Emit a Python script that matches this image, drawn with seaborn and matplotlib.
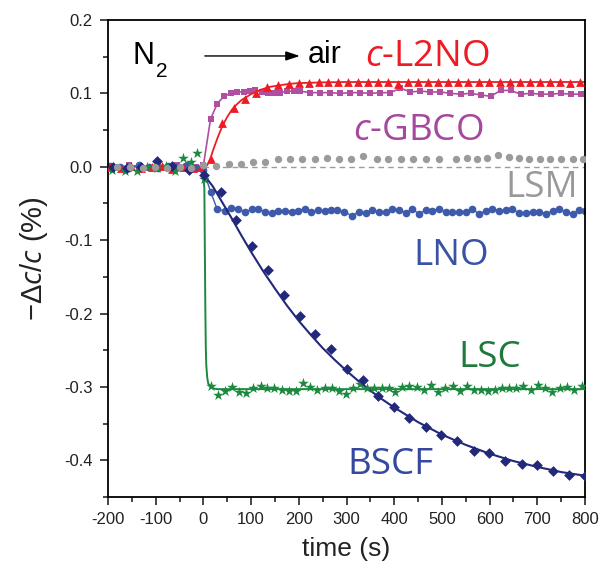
import matplotlib
matplotlib.use("Agg")
import matplotlib.pyplot as plt
from matplotlib.ticker import MultipleLocator
import seaborn as sns

# ---- data ----
# c-L2NO: red triangles + fitted curve
l2no_t = [-195, -173, -152, -130, -108, -87, -65, -43, -22, -5,
          16, 39, 64, 88, 111, 134, 156, 179, 200,
          221, 242, 262, 282, 303, 324, 345, 366, 386, 407,
          428, 449, 470, 491, 512, 533, 554, 578, 599, 621,
          642, 663, 684, 705, 727, 748, 768, 790]
l2no_y = [0.000, -0.002, 0.001, -0.001, 0.000, 0.001, -0.003, 0.000, -0.002, 0.000,
          0.011, 0.060, 0.080, 0.092, 0.100, 0.109, 0.111, 0.113, 0.114,
          0.114, 0.115, 0.115, 0.116, 0.116, 0.116, 0.116, 0.116, 0.116, 0.113,
          0.116, 0.116, 0.116, 0.116, 0.116, 0.116, 0.116, 0.116, 0.116, 0.116,
          0.116, 0.116, 0.116, 0.116, 0.116, 0.116, 0.114, 0.116]
l2no_fit_t = [-200, 0, 8, 15, 20, 30, 40, 50, 60, 70, 80, 90, 100, 120, 140, 160, 180, 200, 250, 300, 800]
l2no_fit_y = [0.0, 0.0, 0.002, 0.012, 0.022, 0.040, 0.056, 0.068, 0.078, 0.085, 0.091, 0.095,
              0.099, 0.105, 0.109, 0.111, 0.113, 0.114, 0.115, 0.1155, 0.1155]

# c-GBCO: magenta squares joined by a line
gbco_t = [-195, -175, -155, -135, -115, -95, -75, -55, -35, -15,
          0, 15, 29, 43, 57, 71, 85, 97, 109, 123,
          135, 147, 161, 175, 189, 203,
          224, 245, 266, 287, 308, 329, 350, 371, 392, 413,
          434, 455, 476, 497, 518, 539, 560, 581, 602, 623,
          644, 665, 686, 707, 728, 749, 770, 791]
gbco_y = [0.001, -0.001, 0.002, 0.000, -0.001, 0.001, 0.000, 0.002, 0.001, 0.000,
          0.002, 0.065, 0.086, 0.096, 0.100, 0.102, 0.102, 0.103, 0.104, 0.102,
          0.101, 0.100, 0.101, 0.103, 0.103, 0.103,
          0.101, 0.101, 0.101, 0.100, 0.101, 0.101, 0.100, 0.101, 0.101, 0.107,
          0.102, 0.103, 0.102, 0.102, 0.100, 0.099, 0.100, 0.098, 0.096, 0.104,
          0.104, 0.099, 0.100, 0.099, 0.099, 0.100, 0.099, 0.099]

# LSM: grey dots
lsm_t = [-181, -153, -126, -101, -76, -50, -25,
         0, 27, 53, 79, 104, 130, 157, 182, 207, 233, 259,
         285, 310, 335, 363, 388, 415, 440, 467, 493,
         530, 553, 574, 595, 618, 641, 662, 683, 706, 727, 750, 774, 795]
lsm_y = [0.000, 0.000, -0.001, 0.000, -0.001, 0.000, -0.001,
         0.003, 0.001, 0.004, 0.004, 0.006, 0.006, 0.010, 0.010, 0.010, 0.010, 0.012,
         0.010, 0.010, 0.015, 0.011, 0.011, 0.010, 0.011, 0.011, 0.011,
         0.010, 0.012, 0.011, 0.012, 0.016, 0.013, 0.012, 0.011, 0.011, 0.011, 0.011, 0.011, 0.011]
lsm_base_t = [0, 800]
lsm_base_y = [0.0, 0.0]

# LNO: blue dots joined by a line
lno_t = [-195, -175, -155, -135, -115, -95, -75, -55, -35, -15,
         0, 15, 29, 45, 58, 72, 87, 101, 115, 129,
         143, 157, 171, 185, 199, 212, 226, 240, 254, 268,
         280,
         294, 312, 326, 340, 354, 368, 382, 396, 410, 424,
         438, 452, 466, 480, 494, 508, 522, 536, 550, 564,
         578, 592, 606, 620, 634, 648, 662, 676, 690, 704,
         718, 732, 746, 760, 774, 788, 799]
lno_y = [0.001, 0.000, -0.001, 0.002, 0.000, -0.002, 0.001, 0.000, 0.002, -0.001,
         -0.004, -0.034, -0.058, -0.060, -0.056, -0.057, -0.062, -0.058, -0.058, -0.061,
         -0.063, -0.060, -0.060, -0.061, -0.060, -0.057, -0.061, -0.059, -0.060, -0.059,
         -0.059,
         -0.061, -0.067, -0.061, -0.0625, -0.059, -0.062, -0.062, -0.058, -0.059, -0.0625,
         -0.058, -0.064, -0.059, -0.060, -0.057, -0.061, -0.062, -0.061, -0.061, -0.058,
         -0.064, -0.060, -0.057, -0.060, -0.059, -0.058, -0.063, -0.063, -0.061, -0.061,
         -0.064, -0.060, -0.058, -0.061, -0.064, -0.059, -0.060]

# LSC: green stars + fitted curve
lsc_t = [-191, -164, -140, -118, -98, -79, -59, -43, -27, -13,
         1,
         15, 30, 46, 60, 75, 90, 104, 120, 134, 149,
         164, 179, 194, 209, 224, 238, 254, 270, 284, 298,
         313, 328, 343, 357, 375, 389, 402, 417, 432, 448,
         462, 477, 491, 507, 523, 537, 553, 567, 582, 596,
         612, 626, 640, 656, 671, 686, 701, 717, 731, 747,
         762, 776, 794]
lsc_y = [-0.004, -0.006, -0.006, 0.000, -0.002, 0.001, -0.006, 0.012, 0.007, 0.019,
         -0.017,
         -0.299, -0.311, -0.305, -0.300, -0.307, -0.308, -0.301, -0.299, -0.302, -0.302,
         -0.304, -0.305, -0.305, -0.294, -0.300, -0.304, -0.302, -0.302, -0.305, -0.309,
         -0.301, -0.296, -0.302, -0.302, -0.302, -0.302, -0.307, -0.300, -0.299, -0.300,
         -0.304, -0.298, -0.307, -0.302, -0.299, -0.305, -0.299, -0.304, -0.304, -0.305,
         -0.304, -0.302, -0.302, -0.302, -0.299, -0.304, -0.298, -0.302, -0.307, -0.301,
         -0.300, -0.304, -0.299]
lsc_fit_t = [0, 2, 3, 4, 5, 6, 8, 10, 14, 20, 30, 800]
lsc_fit_y = [-0.012, -0.030, -0.110, -0.190, -0.245, -0.270, -0.287, -0.295, -0.299, -0.302, -0.303, -0.303]

# BSCF: navy diamonds + fitted curve
bscf_t = [-190, -160, -130, -97, -65, -31,
          2, 36, 69, 102, 136, 168, 202, 235, 267, 301,
          334, 365, 399, 432, 467, 498, 532, 567, 598, 633,
          668, 700, 733, 766, 799]
bscf_y = [0.000, -0.001, 0.000, 0.008, 0.001, -0.004,
          -0.011, -0.035, -0.073, -0.108, -0.141, -0.175, -0.204, -0.228, -0.248, -0.276,
          -0.291, -0.313, -0.327, -0.343, -0.354, -0.365, -0.374, -0.387, -0.390, -0.401,
          -0.405, -0.407, -0.414, -0.420, -0.421]
bscf_fit_t = [0, 20, 40, 60, 80, 100, 125, 150, 175, 200, 225, 250, 275, 300, 325, 350,
              375, 400, 450, 500, 550, 600, 650, 700, 750, 800]
bscf_fit_y = [-0.010, -0.027, -0.049, -0.071, -0.094, -0.116, -0.142, -0.166, -0.189, -0.210,
              -0.229, -0.247, -0.263, -0.278, -0.292, -0.305, -0.317, -0.328, -0.348, -0.365,
              -0.379, -0.391, -0.401, -0.409, -0.416, -0.421]

x_ticks = [-200, -100, 0, 100, 200, 300, 400, 500, 600, 700, 800]
x_labels = ["-200", "-100", "0", "100", "200", "300", "400", "500", "600", "700", "800"]
y_ticks = [-0.4, -0.3, -0.2, -0.1, 0.0, 0.1, 0.2]
y_labels = ["-0.4", "-0.3", "-0.2", "-0.1", "0.0", "0.1", "0.2"]

# ---- colours ----
RED = "#ED1C24"
MAG = "#B04F9F"
GREY = "#9B9B9B"
LNO_C = "#3E5AAA"
GREEN = "#1B8A3F"
NAVY = "#22287A"

sns.set_style("ticks")
plt.rcParams["font.family"] = ["Liberation Sans", "DejaVu Sans"]
plt.rcParams["mathtext.fontset"] = "custom"
plt.rcParams["mathtext.it"] = "Open Sans:italic"
plt.rcParams["mathtext.rm"] = "Open Sans"
plt.rcParams["axes.unicode_minus"] = False

fig = plt.figure(figsize=(6, 5.7), dpi=100)
ax = fig.add_axes([108 / 600, 1 - 497 / 570, 477 / 600, 477 / 570])

# dashed baseline for LSM
sns.lineplot(x=lsm_base_t, y=lsm_base_y, ax=ax, color=GREY, lw=1.0,
             linestyle=(0, (4, 3)), estimator=None, sort=False)

sns.lineplot(x=gbco_t, y=gbco_y, ax=ax, color=MAG, lw=1.2, marker="s", markersize=5,
             markeredgewidth=0, estimator=None, sort=False)

sns.scatterplot(x=l2no_t, y=l2no_y, ax=ax, color=RED, marker="^", s=40, linewidth=0, zorder=3)
sns.lineplot(x=l2no_fit_t, y=l2no_fit_y, ax=ax, color=RED, lw=1.3, estimator=None, sort=False)

sns.lineplot(x=lno_t, y=lno_y, ax=ax, color=LNO_C, lw=1.0, marker="o", markersize=5.5,
             markeredgewidth=0, estimator=None, sort=False)

sns.scatterplot(x=lsc_t, y=lsc_y, ax=ax, color=GREEN, marker="*", s=65, linewidth=0, zorder=3)
sns.lineplot(x=lsc_fit_t, y=lsc_fit_y, ax=ax, color=GREEN, lw=1.4, estimator=None, sort=False)

sns.scatterplot(x=bscf_t, y=bscf_y, ax=ax, color=NAVY, marker="D", s=30, linewidth=0, zorder=3)
sns.lineplot(x=bscf_fit_t, y=bscf_fit_y, ax=ax, color=NAVY, lw=1.5, estimator=None, sort=False)

sns.scatterplot(x=lsm_t, y=lsm_y, ax=ax, color=GREY, marker="o", s=28, linewidth=0, zorder=4)

ax.set_xlim(-200, 800)
ax.set_ylim(-0.45, 0.2)
ax.set_xticks(x_ticks)
ax.set_xticklabels(x_labels)
ax.set_yticks(y_ticks)
ax.set_yticklabels(y_labels)
ax.xaxis.set_minor_locator(MultipleLocator(50))
ax.yaxis.set_minor_locator(MultipleLocator(0.05))
ax.tick_params(which="major", direction="out", length=6, width=1.2, labelsize=12, pad=5,
               top=False, right=False, labelcolor="#222222")
ax.tick_params(which="minor", direction="out", length=3.5, width=1.2, top=False, right=False)
for sp in ax.spines.values():
    sp.set_linewidth(1.3)
    sp.set_color("black")

ax.set_xlabel("time (s)", fontsize=19, labelpad=7, color="#222222")
ax.set_ylabel("\u2212\u0394$\\it{c}$/$\\it{c}$ (%)", fontsize=21, labelpad=10, color="#222222")

# N2 -> air annotation
ax.text(-148, 0.140, "N", fontsize=22, color="black", va="baseline")
ax.text(-100, 0.122, "2", fontsize=15, color="black", va="baseline")
ax.annotate("", xy=(202, 0.151), xytext=(3, 0.151),
            arrowprops=dict(arrowstyle="-|>,head_length=0.6,head_width=0.2",
                            color="black", lw=1.0, mutation_scale=14, shrinkA=0, shrinkB=0))
ax.text(219, 0.1415, "air", fontsize=22, color="black", va="baseline")

# series labels
lab = dict(fontsize=26.5, family="Open Sans", va="baseline")
ax.text(338, 0.137, "$\\it{c}$-L2NO", color=RED, **lab)
ax.text(313, 0.036, "$\\it{c}$-GBCO", color="#A6489D", **lab)
ax.text(785, -0.041, "LSM", color="#999999", ha="right", **lab)
ax.text(441, -0.134, "LNO", color="#3A52A4", **lab)
ax.text(534, -0.273, "LSC", color="#1E7A3C", **lab)
ax.text(301, -0.419, "BSCF", color="#3548A0", **lab)

plt.savefig("out.png", dpi=100)
